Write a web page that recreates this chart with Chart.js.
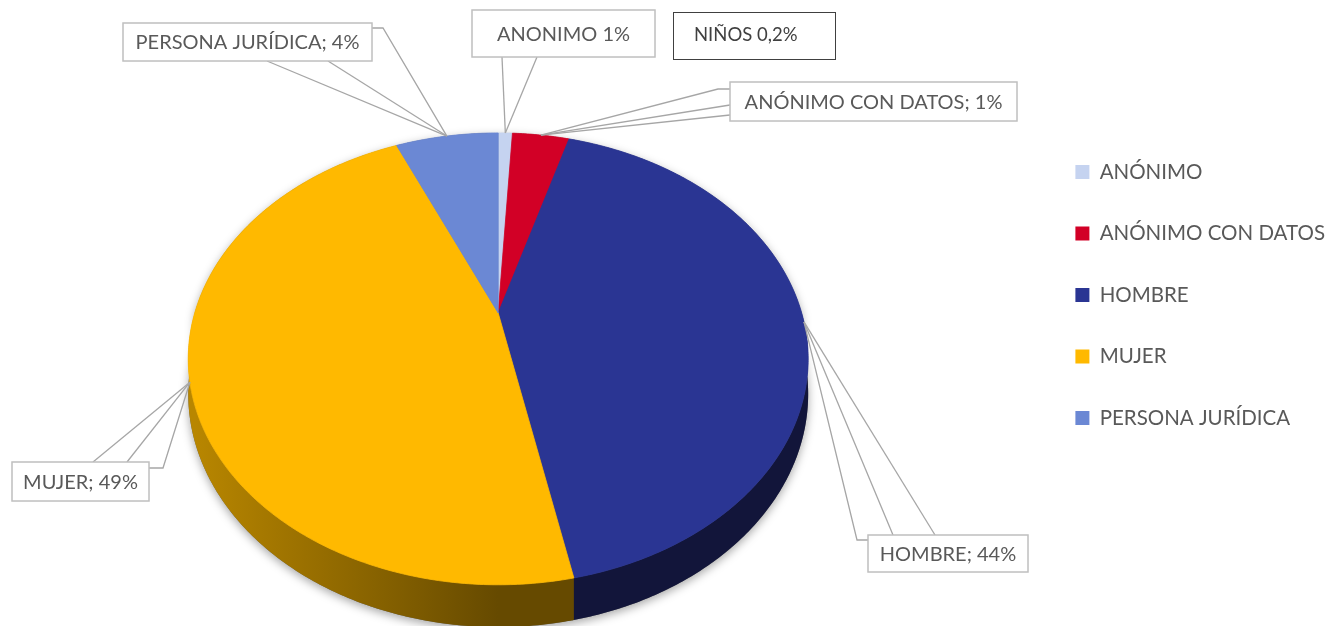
<!DOCTYPE html>
<html>
<head>
<meta charset="utf-8">
<script src="https://cdn.jsdelivr.net/npm/chart.js@4.4.1/dist/chart.umd.min.js"></script>
<style>
  html, body { margin: 0; padding: 0; background: #fff; }
</style>
</head>
<body>
<canvas id="grafico" width="1325" height="626"></canvas>
<script>
// datos
const categorias = ["ANÓNIMO", "ANÓNIMO CON DATOS", "HOMBRE", "MUJER", "PERSONA JURÍDICA"];
const valores = [0.9, 3.6, 42.3, 46.7, 6.5];
const etiquetas = ["ANONIMO 1%", "ANÓNIMO CON DATOS; 1%", "HOMBRE; 44%", "MUJER; 49%", "PERSONA JURÍDICA; 4%"];
const notaNinos = "NIÑOS 0,2%";

const colores = ["#c5d3f0", "#d20026", "#2a3593", "#ffb900", "#6b88d4"];
// color del lateral: [claro a la izquierda, oscuro]
const coloresLado = [
  ["#9aa6bd", "#7d889c"],
  ["#9a0019", "#7a0014"],
  ["#1a1f52", "#12153a"],
  ["#b88600", "#664a00"],
  ["#4d63a0", "#3a4c80"],
];

// cajas de las etiquetas (x, y, ancho, alto) y puntos donde salen las lineas
const cajas = [
  { x: 472, y: 10, w: 183, h: 47, lineas: [[[502, 57]], [[537, 57]]] },
  { x: 730, y: 82, w: 287, h: 39, lineas: [[[730, 89], [718, 89]], [[730, 105]], [[730, 115]]] },
  { x: 868, y: 535, w: 160, h: 37, lineas: [[[868, 540], [857, 540]], [[893, 535]], [[935, 535]]] },
  { x: 12, y: 462, w: 137, h: 39, lineas: [[[93, 462]], [[127, 462]], [[149, 468], [163, 468]]] },
  { x: 123, y: 23, w: 249, h: 38, lineas: [[[267, 61]], [[328, 61]], [[372, 28], [383, 28]]] },
];
const cajaNinos = { x: 673, y: 12, w: 162, h: 47 };

const fuente = "Lato, 'Noto Sans', sans-serif";

// vista 3D con perspectiva (como el grafico de Excel)
const vista = { inclinacion: 0.7137, perspectiva: 0.203, profundidad: 33.7 };

function proyectar(x, y, r, a, bajo) {
  const u = Math.cos(a);
  const w = -Math.sin(a);
  const f = 1 / (1 + vista.perspectiva * w);
  return [x + r * u * f, y - r * vista.inclinacion * w * f + (bajo ? vista.profundidad * f : 0)];
}

function borde(ctx, x, y, r, a, b, bajo, inverso) {
  const pasos = Math.max(2, Math.ceil(Math.abs(b - a) / 0.01));
  for (let k = 0; k <= pasos; k++) {
    const t = inverso ? b - (b - a) * k / pasos : a + (b - a) * k / pasos;
    const p = proyectar(x, y, r, t, bajo);
    ctx.lineTo(p[0], p[1]);
  }
}

const pie3d = {
  id: "pie3d",
  beforeDatasetsDraw(chart) {
    const ctx = chart.ctx;
    const arcs = chart.getDatasetMeta(0).data;
    const { x, y, outerRadius: r } = arcs[0].getProps(["x", "y", "outerRadius"], true);

    // sombra del cuerpo
    ctx.save();
    ctx.shadowColor = "rgba(0,0,0,0.35)";
    ctx.shadowBlur = 10;
    ctx.shadowOffsetY = 3;
    ctx.fillStyle = "#666";
    ctx.beginPath();
    borde(ctx, x, y, r, Math.PI, 2 * Math.PI, false, false);
    borde(ctx, x, y, r, 0, Math.PI, true, false);
    ctx.closePath();
    ctx.fill();
    ctx.restore();

    // lateral visible
    const g0 = proyectar(x, y, r, Math.PI, false)[0];
    const g1 = proyectar(x, y, r, 0, false)[0];
    arcs.forEach((arc, i) => {
      const { startAngle: s, endAngle: e } = arc.getProps(["startAngle", "endAngle"], true);
      const a = Math.max(s, 0);
      const b = Math.min(e + 0.004, Math.PI);
      if (b <= a) return;
      const g = ctx.createLinearGradient(g0, 0, g1, 0);
      g.addColorStop(0, coloresLado[i][0]);
      g.addColorStop(0.5, coloresLado[i][1]);
      g.addColorStop(1, coloresLado[i][1]);
      ctx.fillStyle = g;
      ctx.beginPath();
      borde(ctx, x, y, r, a, b, false, false);
      borde(ctx, x, y, r, a, b, true, true);
      ctx.closePath();
      ctx.fill();
    });

    // cara superior
    arcs.forEach((arc) => {
      const { startAngle: s, endAngle: e } = arc.getProps(["startAngle", "endAngle"], true);
      ctx.fillStyle = arc.options.backgroundColor;
      ctx.strokeStyle = arc.options.backgroundColor;
      ctx.lineWidth = 0.8;
      ctx.beginPath();
      ctx.moveTo(x, y);
      borde(ctx, x, y, r, s, e, false, false);
      ctx.closePath();
      ctx.fill();
      ctx.stroke();
    });
    return false;
  },
  afterDraw(chart) {
    const ctx = chart.ctx;
    const arcs = chart.getDatasetMeta(0).data;
    const { x, y, outerRadius: r } = arcs[0].getProps(["x", "y", "outerRadius"], true);

    ctx.save();
    ctx.font = "20px " + fuente;
    ctx.textAlign = "center";
    ctx.textBaseline = "middle";
    arcs.forEach((arc, i) => {
      const { startAngle: s, endAngle: e } = arc.getProps(["startAngle", "endAngle"], true);
      const [ax, ay] = proyectar(x, y, r, (s + e) / 2, false);
      const c = cajas[i];
      ctx.strokeStyle = "#a6a6a6";
      ctx.lineWidth = 1.3;
      c.lineas.forEach((pts) => {
        ctx.beginPath();
        ctx.moveTo(pts[0][0], pts[0][1]);
        pts.slice(1).forEach((p) => ctx.lineTo(p[0], p[1]));
        ctx.lineTo(ax, ay);
        ctx.stroke();
      });
      ctx.fillStyle = "#fff";
      ctx.fillRect(c.x, c.y, c.w, c.h);
      ctx.strokeStyle = "#bfbfbf";
      ctx.lineWidth = 1.5;
      ctx.strokeRect(c.x, c.y, c.w, c.h);
      ctx.fillStyle = "#595959";
      ctx.fillText(etiquetas[i], c.x + c.w / 2, c.y + c.h / 2 + 1);
    });

    // caja de niños (sin linea)
    const n = cajaNinos;
    ctx.fillStyle = "#fff";
    ctx.fillRect(n.x, n.y, n.w, n.h);
    ctx.strokeStyle = "#404040";
    ctx.lineWidth = 1;
    ctx.strokeRect(n.x + 0.5, n.y + 0.5, n.w, n.h);
    ctx.font = "18.5px " + fuente;
    ctx.fillStyle = "#404040";
    ctx.textAlign = "left";
    ctx.fillText(notaNinos, n.x + 21, n.y + n.h / 2);
    ctx.restore();
  },
};

new Chart(document.getElementById("grafico"), {
  type: "pie",
  data: {
    labels: categorias,
    datasets: [{
      data: valores,
      backgroundColor: colores,
      borderWidth: 0,
      clip: false,
    }],
  },
  options: {
    responsive: false,
    devicePixelRatio: 1,
    animation: false,
    events: [],
    radius: 303.5,
    layout: {
      padding: { left: 0, top: 120.75, bottom: 120.75, right: -10 },
    },
    plugins: {
      tooltip: { enabled: false },
      // separador vacio entre la tarta y la leyenda
      title: {
        display: true,
        text: "",
        position: "right",
        weight: 500,
        font: { size: 10 },
        padding: { top: 13, bottom: 13 },
      },
      legend: {
        position: "right",
        align: "start",
        labels: {
          boxWidth: 14,
          boxHeight: 14,
          padding: 41,
          color: "#595959",
          font: { family: fuente, size: 20.5 },
        },
      },
    },
  },
  plugins: [pie3d],
});
</script>
</body>
</html>
